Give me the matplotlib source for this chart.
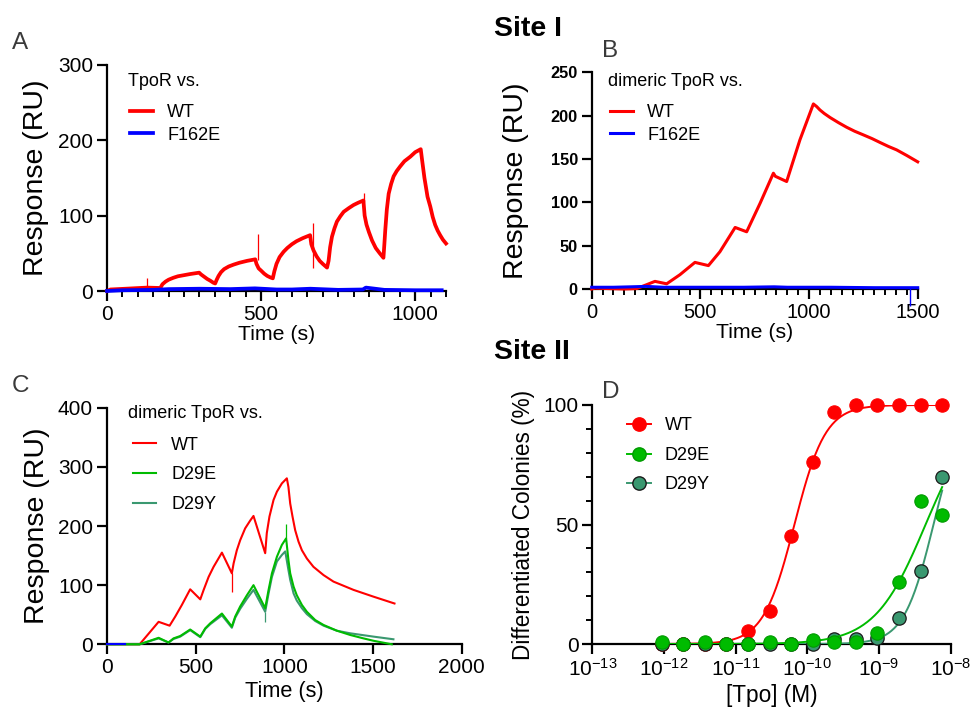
import numpy as np
import matplotlib
matplotlib.use("Agg")
import matplotlib.pyplot as plt
from matplotlib.lines import Line2D
from matplotlib.ticker import MultipleLocator, FixedLocator, NullLocator

plt.rcParams['font.family'] = ['Liberation Sans', 'DejaVu Sans']
plt.rcParams['mathtext.fontset'] = 'custom'
plt.rcParams['mathtext.rm'] = 'Liberation Sans'

# ---------------- DATA ----------------
# Panel A: TpoR vs. (monomeric) single-cycle kinetics
A_wt_t = [0, 11, 60, 130, 173, 180, 190, 200, 215, 230, 250, 270, 299,
          305, 315, 325, 335, 345, 351,
          356, 362, 370, 380, 395, 411, 430, 455, 481,
          485, 492, 500, 510, 520, 530, 538,
          543, 550, 560, 573, 585, 600, 615, 635, 659,
          663, 670, 680, 690, 700, 714,
          719, 724, 730, 738, 746, 757, 768, 785, 800, 815, 832,
          836, 842, 850, 860, 872, 885, 897,
          900, 903, 908, 914, 922, 930, 940, 951, 965, 984, 1000, 1018,
          1022, 1030, 1040, 1049, 1057, 1065, 1073, 1081, 1090, 1100]
A_wt_ru = [0, 2, 3, 4.5, 4, 9, 12.5, 15, 17.5, 19.5, 21, 22.5, 24.3,
           22, 19, 16, 13.7, 11, 10,
           15, 20, 25, 29, 32.5, 35, 37.5, 40, 42,
           36, 30, 27, 23, 20, 18, 16.8,
           26, 36, 45, 52, 57, 62, 66, 70, 74,
           62, 54, 46, 40, 36, 31,
           40, 58, 72, 83, 92, 99, 105, 110, 114, 117, 120,
           100, 88, 78, 67, 57, 50, 44,
           62, 81, 108, 129, 142, 152, 159, 165, 172, 178, 184, 188,
           175, 150, 125, 112, 98, 87.5, 80, 74, 68, 63]
A_f162e_t = [0, 50, 150, 200, 300, 400, 480, 550, 600, 660, 750, 830, 840, 900, 1000, 1086]
A_f162e_ru = [0, 1, 1.5, 2.5, 3, 2.5, 3.5, 2, 2, 3, 1.5, 2, 4.5, 1.5, 1, 1]
A_spike_t = [130, 489, 668, 835]
A_spike_lo = [4, 41, 30, 118]
A_spike_hi = [17, 76, 90, 130]

# Panel B: dimeric TpoR vs.
B_wt_t = [0, 15, 77, 150, 207, 253, 291, 345, 406, 475, 537, 590, 660, 713, 775, 836, 845, 897,
          958, 1020, 1035, 1050, 1070, 1097, 1135, 1173, 1210, 1250, 1290, 1327, 1365, 1403,
          1450, 1500]
B_wt_ru = [0, 1, 0.5, 0, 0.5, 5, 8.8, 6, 16.5, 30.7, 27, 43, 71, 66, 99, 133.6, 130, 124,
           172, 213.5, 210.5, 206.6, 202.5, 197.8, 192, 186.6, 182, 177.8, 173.5, 169, 164.5,
           160.5, 154, 146.7]
B_f162e_t = [0, 100, 180, 250, 330, 500, 700, 840, 900, 1100, 1300, 1450, 1500]
B_f162e_ru = [2, 2, 2.5, 3, 2, 2, 2, 2.5, 2, 2, 1.5, 1.5, 1.5]
B_spike_t = [1465]
B_spike_lo = [-20]
B_spike_hi = [1.5]

# Panel C: dimeric TpoR vs. Site II mutants
C_wt_t = [0, 184, 291, 353, 385, 422, 469, 526, 545, 573, 601, 648, 704, 714, 732, 751, 779,
          807, 826, 892, 901, 916, 939, 958, 986, 1014,
          1023, 1033, 1046, 1061, 1080, 1099, 1127, 1164, 1221, 1277, 1390, 1502, 1621]
C_wt_ru = [0, 0, 38, 31.5, 47, 66.5, 93, 76, 92, 114, 131, 155, 120, 137, 159, 176, 196,
           209, 217, 154, 188, 216, 244, 258, 272, 280.6,
           266, 238, 216, 193, 173.5, 159, 145, 131, 117, 106, 92, 80.6, 69]
C_d29e_t = [0, 184, 291, 347, 375, 413, 469, 526, 554, 582, 648, 704, 723, 751, 789, 826,
            892, 911, 930, 958, 986, 1010,
            1023, 1033, 1052, 1070, 1099, 1127, 1174, 1221, 1296, 1371, 1446, 1502, 1606]
C_d29e_ru = [0, 0, 11, 3, 10, 14, 25, 13, 27, 35.5, 52, 30, 47, 64, 83, 100,
             61, 92, 120, 148, 168, 179,
             142.5, 120, 97.5, 83, 66.5, 55, 41, 32.7, 23, 15.8, 10, 6, 0]
C_d29y_t = [0, 184, 291, 347, 375, 413, 469, 526, 554, 582, 648, 704, 723, 751, 789, 826,
            892, 911, 930, 958, 986, 1005,
            1023, 1033, 1052, 1070, 1099, 1127, 1174, 1221, 1296, 1371, 1502, 1615]
C_d29y_ru = [0, 0, 10, 3, 9, 13, 24, 12, 26, 34, 49, 28, 45, 60, 77, 92,
             55, 86, 114, 140, 151, 157,
             125.6, 109, 86, 74, 61, 51, 39.4, 31.5, 23, 18.6, 13, 8.5]
C_blank_t = [0, 101]
C_blank_ru = [0, 0]
C_spike_t = [704, 1008, 892]
C_spike_lo = [89, 179, 38]
C_spike_hi = [120, 204, 55]

# Panel D: colony differentiation dose-response
D_conc = [9.28e-13, 1.86e-12, 3.71e-12, 7.42e-12, 1.48e-11, 2.97e-11, 5.94e-11,
          1.19e-10, 2.375e-10, 4.75e-10, 9.5e-10, 1.9e-9, 3.8e-9, 7.6e-9]
D_wt = [0, 0, 0, 0, 5.6, 14, 45, 76, 97, 100, 100, 100, 100, 100]
D_d29e = [1, 0, 1, 0, 0, 1, 0, 1.7, 1, 1, 4.5, 26, 60, 54]
D_d29y = [0, 0, 0, 0, 0, 0, 0, 0, 2, 2, 2.4, 10.7, 30.5, 70]
# fitted Hill parameters (logEC50, Hill slope, bottom, top)
D_fit_wt = (-10.18, 2.0, 0.0, 100.0)
D_fit_d29e = (-8.35, 1.22, 0.0, 100.0)
D_fit_d29y = (-8.24, 2.1, 0.0, 100.0)

RED = '#FF0000'
BLUE = '#0000FF'
GREEN = '#00BB00'
TEAL = '#3A9870'

# ---------------- FIGURE ----------------
W, H = 972, 712
fig = plt.figure(figsize=(W / 100, H / 100), dpi=100)


def ax_px(l, r, t, b):
    return fig.add_axes([l / W, 1 - b / H, (r - l) / W, (b - t) / H])


def style(ax, size=15):
    for s in ('top', 'right'):
        ax.spines[s].set_visible(False)
    for s in ('left', 'bottom'):
        ax.spines[s].set_linewidth(1.6)
    ax.tick_params(which='major', length=7, width=1.6, labelsize=size, pad=3, color='black')
    ax.tick_params(which='minor', length=4, width=1.4, color='black')


def fx(px):
    return px / W


def fy(py):
    return 1 - py / H


axA = ax_px(107, 446, 64.7, 291)
axB = ax_px(591.7, 917.7, 72.3, 289)
axC = ax_px(107, 461.7, 407.7, 644.3)
axD = ax_px(592.3, 950.7, 405, 644)

# ---- Panel A ----
style(axA, 15)
lA1, = axA.plot(A_wt_t, A_wt_ru, color=RED, lw=2.7, solid_joinstyle='round', clip_on=False, zorder=3)
lA2, = axA.plot(A_f162e_t, A_f162e_ru, color=BLUE, lw=2.7, clip_on=False, zorder=4)
axA.vlines(A_spike_t, A_spike_lo, A_spike_hi, color=RED, lw=0.9, zorder=3)
axA.set_xlim(0, 1100)
axA.set_ylim(0, 300)
axA.xaxis.set_major_locator(FixedLocator([0, 500, 1000]))
axA.xaxis.set_minor_locator(MultipleLocator(50))
axA.yaxis.set_major_locator(MultipleLocator(100))
axA.set_xlabel('Time (s)', fontsize=15.3, labelpad=1)
axA.set_ylabel('Response (RU)', fontsize=20.5)
axA.yaxis.set_label_coords(-0.170, 0.5)
fig.text(fx(128), fy(81.7), 'TpoR vs.', fontsize=13, va='center', ha='left')
axA.legend([lA1, lA2], ['WT', 'F162E'], loc='upper left',
           bbox_to_anchor=(fx(130), fy(104)), bbox_transform=fig.transFigure,
           frameon=False, fontsize=13, handlelength=1.3, handletextpad=0.76,
           labelspacing=0.32, borderpad=0, borderaxespad=0)

# ---- Panel B ----
style(axB, 14.5)
lB1, = axB.plot(B_wt_t, B_wt_ru, color=RED, lw=2.2, solid_joinstyle='round', clip_on=False, zorder=3)
lB2, = axB.plot(B_f162e_t, B_f162e_ru, color=BLUE, lw=2.2, clip_on=False, zorder=4)
axB.vlines(B_spike_t, B_spike_lo, B_spike_hi, color=BLUE, lw=1.0, clip_on=False, zorder=4)
axB.set_xlim(0, 1500)
axB.set_ylim(0, 250)
axB.xaxis.set_major_locator(MultipleLocator(500))
axB.xaxis.set_minor_locator(MultipleLocator(50))
axB.yaxis.set_major_locator(MultipleLocator(50))
for lab in axB.get_yticklabels():
    lab.set_fontweight('bold')
    lab.set_fontsize(11.8)
axB.set_xlabel('Time (s)', fontsize=15.3, labelpad=1)
axB.set_ylabel('Response (RU)', fontsize=20.5)
axB.yaxis.set_label_coords(-0.193, 0.5)
fig.text(fx(608), fy(81.7), 'dimeric TpoR vs.', fontsize=13, va='center', ha='left')
axB.legend([lB1, lB2], ['WT', 'F162E'], loc='upper left',
           bbox_to_anchor=(fx(610), fy(104)), bbox_transform=fig.transFigure,
           frameon=False, fontsize=13, handlelength=1.3, handletextpad=0.76,
           labelspacing=0.32, borderpad=0, borderaxespad=0)

# ---- Panel C ----
style(axC, 15)
lC1, = axC.plot(C_wt_t, C_wt_ru, color=RED, lw=1.5, solid_joinstyle='round', clip_on=False, zorder=3)
lC3, = axC.plot(C_d29y_t, C_d29y_ru, color=TEAL, lw=1.5, solid_joinstyle='round', clip_on=False, zorder=4)
lC2, = axC.plot(C_d29e_t, C_d29e_ru, color=GREEN, lw=1.5, solid_joinstyle='round', clip_on=False, zorder=5)
axC.plot(C_blank_t, C_blank_ru, color=BLUE, lw=1.5, clip_on=False, zorder=6)
axC.vlines(C_spike_t, C_spike_lo, C_spike_hi, color=[RED, GREEN, TEAL], lw=0.9, zorder=4)
axC.set_xlim(0, 2000)
axC.set_ylim(0, 400)
axC.xaxis.set_major_locator(MultipleLocator(500))
axC.yaxis.set_major_locator(MultipleLocator(100))
axC.set_xlabel('Time (s)', fontsize=15.7, labelpad=3)
axC.set_ylabel('Response (RU)', fontsize=20.5)
axC.yaxis.set_label_coords(-0.162, 0.5)
fig.text(fx(128), fy(413), 'dimeric TpoR vs.', fontsize=13, va='center', ha='left')
axC.legend([lC1, lC2, lC3], ['WT', 'D29E', 'D29Y'], loc='upper left',
           bbox_to_anchor=(fx(133), fy(436.5)), bbox_transform=fig.transFigure,
           frameon=False, fontsize=13, handlelength=1.3, handletextpad=0.81,
           labelspacing=0.71, borderpad=0, borderaxespad=0)

# ---- Panel D ----
style(axD, 15)
axD.set_xscale('log')
axD.set_xlim(1e-13, 1e-8)
axD.set_ylim(0, 100)


def hill(logx, p):
    logec50, n, bot, top = p
    return bot + (top - bot) / (1 + 10 ** ((logec50 - logx) * n))


logx_fit = np.linspace(np.log10(D_conc[0]), np.log10(D_conc[-1]), 300)
x_fit = 10 ** logx_fit
ms = 9.6
axD.plot(x_fit, hill(logx_fit, D_fit_wt), color=RED, lw=1.4, zorder=3)
axD.plot(D_conc, D_wt, 'o', ms=ms, mfc=RED, mec=RED, mew=0.8, clip_on=False, zorder=4)
axD.plot(x_fit, hill(logx_fit, D_fit_d29y), color=TEAL, lw=1.4, zorder=5)
axD.plot(D_conc, D_d29y, 'o', ms=ms, mfc=TEAL, mec='#1a1a1a', mew=0.9, clip_on=False, zorder=6)
axD.plot(x_fit, hill(logx_fit, D_fit_d29e), color=GREEN, lw=1.4, zorder=7)
axD.plot(D_conc, D_d29e, 'o', ms=ms, mfc=GREEN, mec='#009A00', mew=0.8, clip_on=False, zorder=8)

axD.xaxis.set_major_locator(FixedLocator([1e-13, 1e-12, 1e-11, 1e-10, 1e-9, 1e-8]))
axD.xaxis.set_minor_locator(NullLocator())
axD.set_xticklabels([r'$\mathregular{10^{-13}}$', r'$\mathregular{10^{-12}}$',
                     r'$\mathregular{10^{-11}}$', r'$\mathregular{10^{-10}}$',
                     r'$\mathregular{10^{-9}}$', r'$\mathregular{10^{-8}}$'])
axD.yaxis.set_major_locator(MultipleLocator(50))
axD.yaxis.set_minor_locator(MultipleLocator(10))
axD.set_xlabel('[Tpo] (M)', fontsize=16.3, labelpad=3)
axD.set_ylabel('Differentiated Colonies (%)', fontsize=16.3)
axD.yaxis.set_label_coords(-0.160, 0.5)
hD = [Line2D([], [], color=RED, lw=1.4, marker='o', ms=ms, mfc=RED, mec=RED),
      Line2D([], [], color=GREEN, lw=1.4, marker='o', ms=ms, mfc=GREEN, mec='#009A00'),
      Line2D([], [], color=TEAL, lw=1.4, marker='o', ms=ms, mfc=TEAL, mec='#1a1a1a')]
axD.legend(hD, ['WT', 'D29E', 'D29Y'], loc='upper left',
           bbox_to_anchor=(fx(626.7), fy(417.5)), bbox_transform=fig.transFigure,
           frameon=False, fontsize=13, handlelength=1.33, handletextpad=0.79,
           labelspacing=0.69, borderpad=0, borderaxespad=0)

# ---- titles & panel letters ----
fig.text(fx(494), fy(35.7), 'Site I', fontsize=20.5, fontweight='bold', va='baseline', ha='left')
fig.text(fx(494), fy(359), 'Site II', fontsize=20.5, fontweight='bold', va='baseline', ha='left')
PL = '#3a3a3a'
fig.text(fx(12), fy(49.3), 'A', fontsize=17.5, color=PL, va='baseline', ha='left')
fig.text(fx(602), fy(56.7), 'B', fontsize=17.5, color=PL, va='baseline', ha='left')
fig.text(fx(12), fy(391.7), 'C', fontsize=17.5, color=PL, va='baseline', ha='left')
fig.text(fx(602), fy(398.3), 'D', fontsize=17.5, color=PL, va='baseline', ha='left')

fig.savefig('out.png', dpi=100)
